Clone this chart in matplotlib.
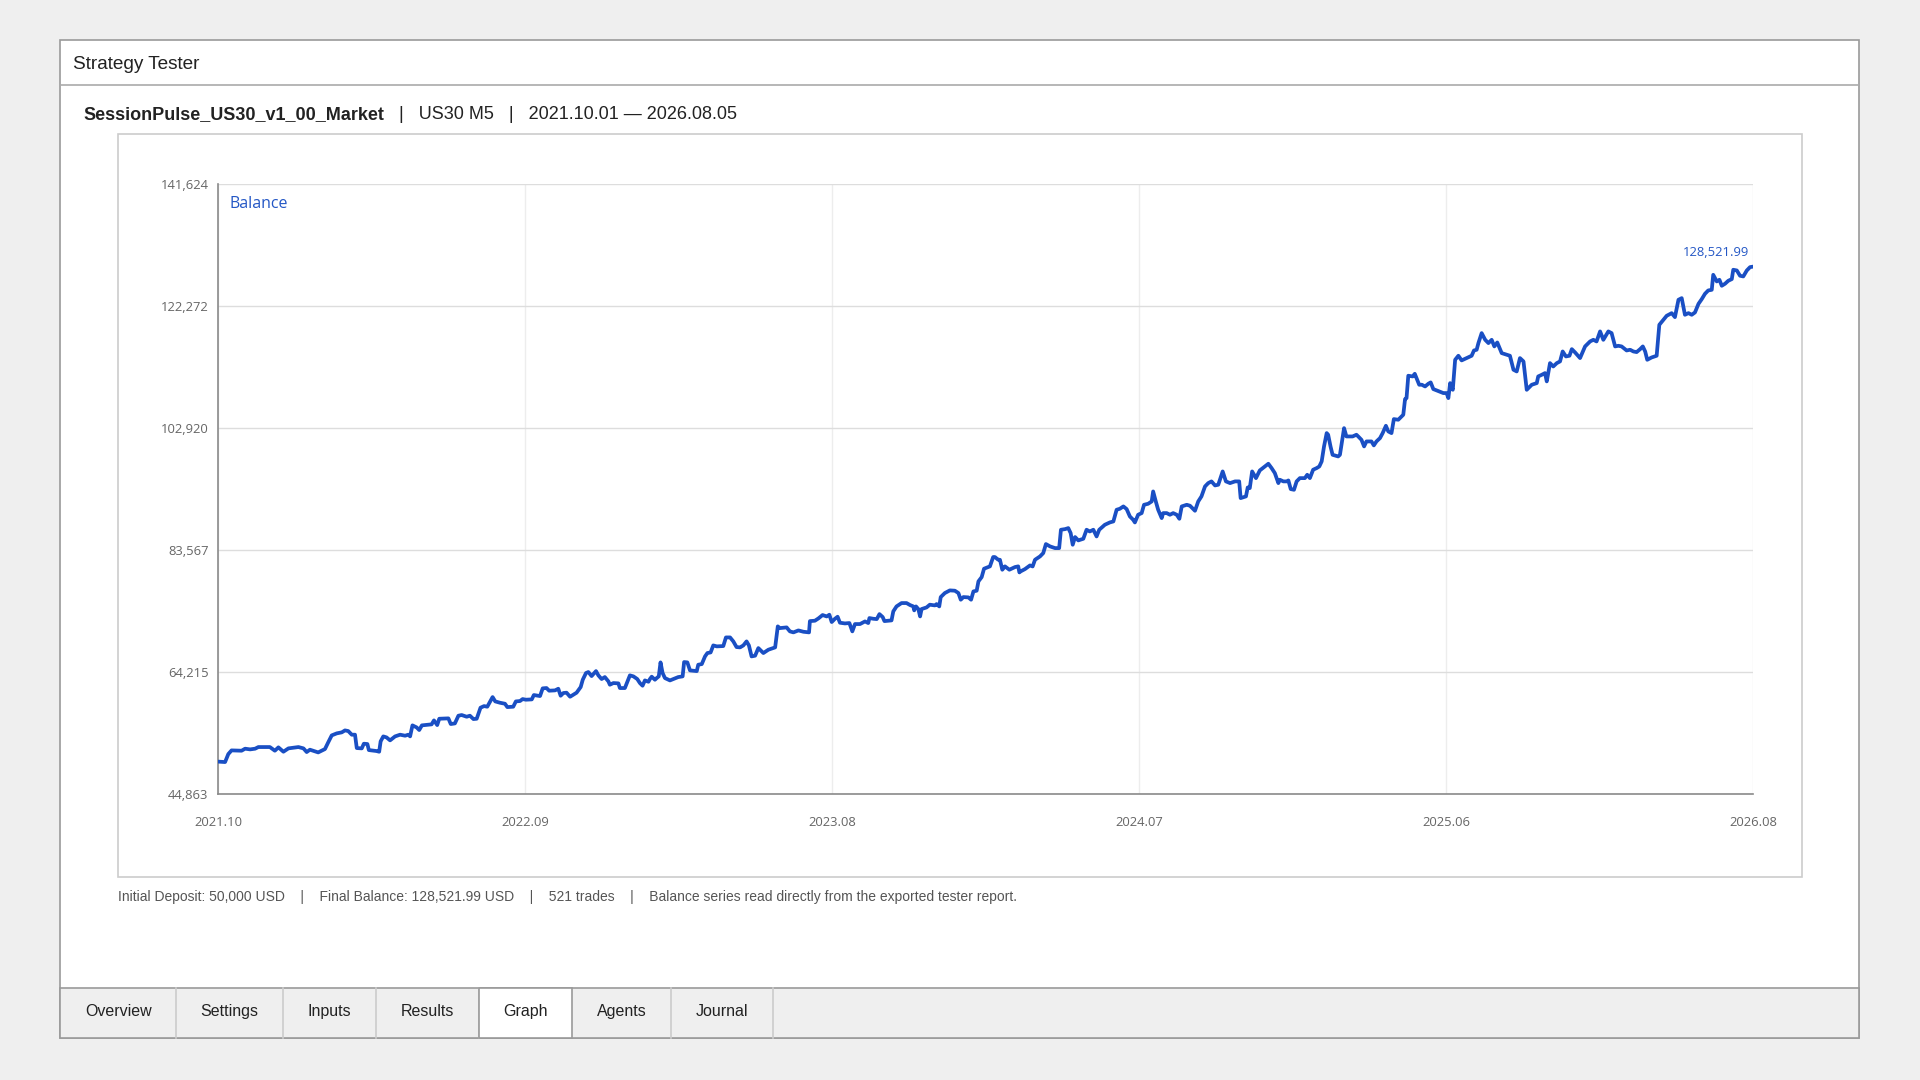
import matplotlib
matplotlib.use("Agg")
import matplotlib.pyplot as plt
from matplotlib.patches import Rectangle
from matplotlib.lines import Line2D
import numpy as np

# ---------------- data ----------------
title_text = "Strategy Tester"
strategy_name = "SessionPulse_US30_v1_00_Market"
symbol_tf = "US30 M5"
date_range = "2021.10.01 \u2014 2026.08.05"
series_label = "Balance"
x_tick_labels = ["2021.10", "2022.09", "2023.08", "2024.07", "2025.06", "2026.08"]
y_ticks = [44863, 64215, 83567, 102920, 122272, 141624]
n_trades = 521
initial_deposit = 50000
tab_names = ["Overview", "Settings", "Inputs", "Results", "Graph", "Agents", "Journal"]
active_tab = "Graph"

trade_pos = [
    0, 2.3, 3.4, 4.5, 7.9, 9.1, 10.8, 12.5, 13.6, 17.5, 19.2, 20.4, 22.1, 23.8, 27.2, 28.9, 30.0, 31.1,
    33.9, 36.2, 37.3, 38.5, 40.2, 41.9, 43.0, 44.1, 45.3, 46.4, 47.0, 48.7, 49.4, 50.6, 51.1, 53.7,
    54.6, 55.1, 56.0, 57.1, 58.3, 60.0, 61.7, 63.4, 64.5, 65.1, 65.9, 67.3, 68.2, 69.1, 72.4, 73.2,
    74.3, 75.0, 78.1, 78.9, 80.3, 81.5, 82.6, 84.3, 85.4, 86.6, 87.7, 89.0, 90.2, 91.3, 93.1, 94.0,
    95.6, 97.3, 98.1, 100.1, 101.0, 102.4, 103.3, 104.4, 106.4, 107.1, 109.2, 110.1, 111.4, 112.3,
    114.3, 115.4, 116.2, 117.1, 118.2, 119.4, 121.6, 123.0, 123.7, 124.8, 125.6, 126.7, 128.2, 129.0,
    130.1, 131.2, 132.4, 132.9, 134.1, 135.8, 136.3, 138.0,
    139.7, 140.9, 142.2, 143.1, 144.0, 144.8, 146.0, 146.5, 147.1, 148.2, 148.8, 149.5, 150.1, 150.8,
    151.6, 153.3, 155.0, 156.1, 157.6, 158.1, 159.2, 160.1, 162.4, 162.9, 164.1, 165.2, 166.0, 167.1,
    168.0, 169.2, 171.4, 172.3, 173.7, 174.8, 175.9, 177.1, 178.2, 179.3, 180.1, 181.0, 182.2, 183.3,
    185.0, 186.7, 189.0, 189.9, 190.6, 192.9, 194.0, 195.2, 196.9, 198.6, 200.5, 200.8, 202.5, 203.7,
    205.1, 206.5, 207.4, 208.2, 209.3, 210.2, 211.0, 212.7, 214.2, 215.2, 216.1, 217.8, 218.9, 219.5,
    220.6, 221.0, 222.3, 223.5, 224.4, 225.5, 226.1, 228.5, 229.1, 230.2, 231.9, 233.6, 234.8, 235.9,
    236.2, 236.8, 237.6, 238.2, 238.7, 240.4, 241.5, 243.2, 243.8, 244.7, 245.2, 246.6, 248.3, 250.0,
    251.2, 252.0, 252.9, 254.6, 255.5, 256.3, 257.4, 258.0, 259.1, 259.9, 261.9, 263.0, 263.6, 264.7,
    265.3, 266.1, 267.0, 268.5, 270.4, 271.5, 271.9,
    272.3, 273.8, 275.5, 276.4, 277.2, 278.9, 280.0, 280.9, 282.3, 284.0, 285.4, 286.0, 287.4, 288.5,
    289.3, 290.0, 290.8, 291.9, 293.6, 294.7, 295.8, 297.0, 298.1, 299.0, 300.9, 302.6, 303.8, 304.9,
    306.0, 307.2, 308.3, 309.4, 310.5, 311.1, 312.2, 313.4, 314.2, 315.6, 316.8, 317.3, 318.2, 319.0,
    320.2, 320.7, 321.9, 323.0, 324.1, 325.3, 326.2, 327.0, 328.7, 329.8, 331.5, 332.6, 333.7, 334.9,
    336.0, 337.1, 338.3, 339.4, 340.9, 342.0, 343.4, 345.1, 346.5, 347.0, 348.8, 349.4, 350.1, 350.9,
    352.2, 353.5, 355.2, 356.4, 357.5, 358.6, 359.8, 360.3, 361.5, 362.6, 363.2, 364.0, 365.1, 366.0,
    367.1, 368.8, 369.6, 370.5, 371.6, 372.8, 373.7, 374.5, 375.3, 376.2, 376.7, 377.5, 378.2, 380.1,
    380.7, 382.1, 382.9, 385.0, 386.3, 386.9, 388.0, 388.9, 389.7, 391.4, 392.2, 393.1, 394.3, 395.2,
    396.3, 397.1, 398.2, 399.0, 400.5, 402.2, 402.8, 403.3, 403.9, 405.4, 406.1, 407.6,
    408.5, 409.6, 410.7, 411.5, 412.4, 414.1, 415.8, 416.9, 417.5, 418.1, 419.0, 419.8, 420.9, 422.0,
    423.7, 425.4, 426.2, 427.1, 427.7, 428.8, 430.0, 431.1, 432.2, 433.1, 434.1, 435.6, 437.3, 438.4,
    439.6, 440.7, 441.8, 443.0, 444.1, 445.8, 447.5, 448.0, 449.2, 450.3, 450.9, 452.0, 453.1, 454.3,
    455.4, 456.3, 457.4, 458.6, 459.4, 460.5, 462.2, 463.9, 465.6, 466.7, 467.8, 469.0, 470.1, 471.8,
    472.9, 474.1, 475.2, 476.3, 478.0, 479.2, 480.3, 481.4, 482.6, 483.5, 484.3, 485.0, 486.5, 488.2,
    489.1, 490.5, 491.6, 493.3, 494.4, 495.6, 496.7, 497.8, 499.0, 500.1, 501.2, 502.4, 503.5, 504.6,
    505.7, 506.9, 507.4, 508.6, 509.5, 510.3, 511.4, 512.5, 513.7, 514.2, 515.4, 516.5, 517.6, 518.8,
    519.9, 521.0,
]

balance = [
    50000, 49930, 51200, 51780, 51730, 52050, 51940, 52050, 52310, 52310, 51730, 52260, 51570, 52100,
    52310, 52100, 51520, 51890, 51460, 51990, 53050, 54160, 54480, 54640, 54950, 54850, 54270, 54270,
    52150, 52100, 52840, 52790, 51830, 51680, 51570, 53210, 54000, 53840, 53370, 54000, 54270, 54110,
    54270, 54000, 55750, 55430, 55010, 55750, 55910, 56540, 55800, 56800, 56860, 55960, 56060, 57280,
    57390, 57120, 57280, 56750, 56800, 58550, 58810, 58710, 60240, 59550, 59340, 59180, 58650, 58710,
    59550, 59610, 59920, 59820, 59870, 60560, 60400, 61620, 61670, 61250, 61300, 61560, 60450, 60880,
    60930, 60290, 60930, 61830, 62990, 64050, 64210, 63570, 64360, 63680, 63100, 63410, 62730, 62200,
    62460, 62410, 61670, 61670,
    63680, 63520, 63100, 62460, 62040, 62880, 62670, 63100, 63470, 62990, 63250, 63520, 65740, 64050,
    63250, 62880, 63200, 63410, 63520, 65790, 65740, 64470, 64360, 65370, 65470, 66690, 67220, 67320,
    68430, 68280, 68330, 69700, 69700, 69070, 68170, 68120, 68430, 69070, 68430, 66690, 66800, 68010,
    67220, 67750, 68120, 71450, 71180, 71290, 70660, 70500, 70810, 70600, 70500, 72290, 72350, 72720,
    73250, 73030, 73300, 72140, 72660, 72980, 72030, 71920, 71980, 70660, 71820, 71820, 72080, 72240,
    71980, 72770, 72660, 72610, 73400, 72930, 72290, 72400, 73830, 74620, 75150, 75150, 74830, 74620,
    73990, 74620, 74200, 73030, 74200, 74460, 74890, 74780, 74990, 74620, 76100, 76740, 77160, 77110,
    76740, 75680, 76100, 76050, 75680, 77000, 77110, 78590, 79270, 80600, 80970, 82450, 82450, 82020,
    82020, 80440, 80970, 80440, 80860, 80970, 80010,
    80170, 80540, 81120, 80960, 82020, 82550, 83080, 84510, 84140, 83870, 83870, 86780, 86880, 87040,
    86250, 84400, 85620, 85090, 85350, 86780, 86510, 86780, 85720, 86780, 87570, 87940, 88100, 89950,
    90110, 90480, 90060, 88890, 88370, 87940, 89160, 89420, 90740, 90900, 91270, 92860, 91270, 89950,
    88630, 89420, 89420, 89160, 89420, 89160, 88520, 90480, 90740, 90590, 89790, 91270, 92070, 93650,
    94180, 94450, 93810, 93920, 96030, 94450, 94180, 94450, 94450, 91800, 92070, 93490, 93390, 96030,
    94970, 96190, 96820, 97250, 96560, 95770, 94180, 94710, 94450, 94450, 94600, 93230, 93120, 94450,
    94970, 94970, 95500, 94970, 96300, 96560, 96820, 97620, 100000, 102110, 101850, 100000, 98670, 98410,
    98670, 102900, 101580, 101580, 101850, 101580, 101050, 100000, 100790, 100790, 100160, 100790, 101320, 102110,
    103270, 102380, 102110, 104330, 104230, 105020, 107500, 107660, 111210, 111100, 111520, 109780,
    109780, 109510, 109940, 110150, 109090, 108770, 108460, 108460, 107660, 110040, 108980, 113740, 114380, 113640,
    114010, 114380, 115220, 115330, 116390, 117970, 116910, 116390, 116910, 115860, 116490, 114800, 114540, 114380,
    112160, 111890, 114010, 113480, 108980, 109780, 110040, 111100, 111360, 111630, 110310, 113210, 112680, 113210,
    113480, 115060, 114270, 114380, 115430, 114910, 114010, 115860, 116650, 116910, 116650, 118240, 116910, 118240,
    117970, 115860, 115960, 115860, 115220, 115330, 115060, 114960, 115430, 115860, 115060, 113740, 114110, 114380,
    119290, 120090, 120720, 121140, 120510, 123260, 123520, 120880, 121140, 120880, 121250, 122620, 123360, 124210,
    124740, 124840, 127220, 126170, 126430, 125480, 125800, 126270, 126540, 128020, 127910, 127070, 126960, 127910,
    128440, 128521.99,
]

# ---------------- layout helpers (pixel -> figure fraction) ----------------
W, H = 1920, 1080
def fx(x):
    return x / W
def fy(y):
    return 1 - y / H

fig = plt.figure(figsize=(19.2, 10.8), dpi=100)
fig.patch.set_facecolor("#efefef")

UI = "Liberation Sans"
CH = "Open Sans"

# main panel
fig.patches.append(Rectangle((fx(60), fy(1038)), (1859 - 60) / W, (1038 - 40) / H,
                             transform=fig.transFigure, facecolor="white",
                             edgecolor="#9a9a9a", linewidth=1.2, zorder=0))
fig.lines.append(Line2D([fx(60), fx(1859)], [fy(84.5), fy(84.5)], transform=fig.transFigure,
                        color="#aaaaaa", linewidth=1.2))
fig.text(fx(73), fy(64.5), title_text, fontsize=13.7, family=UI, color="#222222", va="center", ha="left")

# subtitle
t1 = fig.text(fx(83), fy(114.5), strategy_name, fontsize=13, family=UI, fontweight="bold",
              color="#222222", va="center", ha="left")
fig.canvas.draw()
bb = t1.get_window_extent(renderer=fig.canvas.get_renderer())
fig.text(bb.x1 / W, fy(114.5), "   |   " + symbol_tf + "   |   " + date_range, fontsize=13, family=UI,
         color="#222222", va="center", ha="left")

# chart box
fig.patches.append(Rectangle((fx(117.5), fy(877)), (1802 - 117.5) / W, (877 - 133.5) / H,
                             transform=fig.transFigure, facecolor="white",
                             edgecolor="#cccccc", linewidth=1.2, zorder=0.5))

# axes
ax = fig.add_axes([fx(218.3), fy(794), 1535 / W, (794 - 184) / H])
ax.set_zorder(5)
ax.set_facecolor("white")
line_color = "#1a4fc4"
ax.plot(trade_pos, balance, color=line_color, linewidth=2.7, solid_joinstyle="round",
        solid_capstyle="round", zorder=3)
ax.set_xlim(0, n_trades)
ax.set_ylim(y_ticks[0], y_ticks[-1])
ax.set_xticks(np.linspace(0, n_trades, len(x_tick_labels)))
ax.set_xticklabels(x_tick_labels)
ax.set_yticks(y_ticks)
ax.set_yticklabels([f"{v:,}" for v in y_ticks])
for s in ["top", "right"]:
    ax.spines[s].set_visible(False)
for s in ["left", "bottom"]:
    ax.spines[s].set_color("#8a8a8a")
    ax.spines[s].set_linewidth(1.2)
ax.tick_params(axis="both", length=0, labelsize=9.4, labelcolor="#666666")
ax.tick_params(axis="y", pad=7)
ax.tick_params(axis="x", pad=16)
for lab in ax.get_xticklabels() + ax.get_yticklabels():
    lab.set_family(CH)
ax.grid(axis="y", color="#dddddd", linewidth=1.0)
ax.grid(axis="x", color="#ededed", linewidth=1.0)
ax.set_axisbelow(True)

ax.text(0.0076, 0.9665, series_label, transform=ax.transAxes, fontsize=11.5, family=CH,
        color="#2457c5", va="center", ha="left")
ax.annotate(f"{balance[-1]:,.2f}", xy=(trade_pos[-1], balance[-1]), xytext=(-3.2, 9.8),
            textcoords="offset points", fontsize=9.4, family=CH, color="#2457c5",
            ha="right", va="center", annotation_clip=False)

# footer
footer = (f"Initial Deposit: {initial_deposit:,} USD    |    Final Balance: {balance[-1]:,.2f} USD    |    "
          f"{n_trades} trades    |    Balance series read directly from the exported tester report.")
fig.text(fx(117.5), fy(896.5), footer, fontsize=10, family=UI, color="#555555", va="center", ha="left")

# tab bar
fig.patches.append(Rectangle((fx(60), fy(1038)), (1859 - 60) / W, (1038 - 988) / H,
                             transform=fig.transFigure, facecolor="#efefef",
                             edgecolor="#9a9a9a", linewidth=1.2, zorder=1))
tab_edges = [61, 176.3, 282.9, 375.9, 478.8, 571.8, 671, 772.7]
for i, name in enumerate(tab_names):
    x0, x1 = tab_edges[i], tab_edges[i + 1]
    if name == active_tab:
        fig.patches.append(Rectangle((fx(x0), fy(1037.5)), (x1 - x0) / W, (1037.5 - 988) / H,
                                     transform=fig.transFigure, facecolor="white",
                                     edgecolor="#9a9a9a", linewidth=1.2, zorder=2))
    else:
        fig.lines.append(Line2D([fx(x1), fx(x1)], [fy(988), fy(1038)], transform=fig.transFigure,
                                color="#cccccc", linewidth=1.2, zorder=1.5))
    fig.text(fx((x0 + x1) / 2), fy(1011.5), name, fontsize=11.5, family=UI, color="#222222",
             va="center", ha="center", zorder=3)

fig.savefig("out.png", dpi=100, facecolor=fig.get_facecolor())
